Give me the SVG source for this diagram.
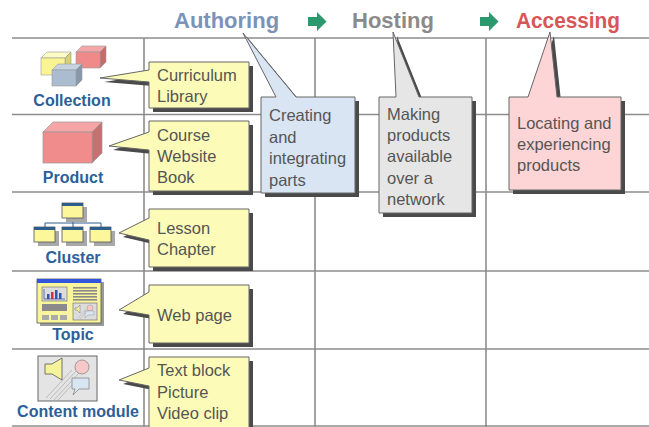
<svg xmlns="http://www.w3.org/2000/svg" width="649" height="427" viewBox="0 0 649 427">
  <style>
    .grid { stroke: #8c8c8c; stroke-width: 1.6; fill: none; }
    .head { font-family: "Liberation Sans", Arial, sans-serif; font-weight: bold; font-size: 22px; }
    .lbl { font-family: "Liberation Sans", Arial, sans-serif; font-weight: bold; font-size: 16px; fill: #2d5f9a; text-anchor: middle; }
    .txt { font-family: "Liberation Sans", Arial, sans-serif; font-size: 16.5px; fill: #555555; }
    .shadow { fill: #4a4a4a; }
    .callout { stroke: #666666; stroke-width: 1; }
    .yel { fill: #fdfbb8; }
    .win { fill: #fbf79a; stroke: #555555; stroke-width: 0.8; }
    .winbar { fill: #2e5d8c; }
    .winshadow { fill: #a8a8a8; }
    .flow { fill: #2a9a6e; }
  </style>
  <rect width="649" height="427" fill="#ffffff"/>

  <!-- table grid -->
  <g id="grid">
    <line class="grid" x1="12" y1="38" x2="649" y2="38"/>
    <line class="grid" x1="12" y1="114.5" x2="649" y2="114.5"/>
    <line class="grid" x1="12" y1="192" x2="649" y2="192"/>
    <line class="grid" x1="12" y1="271" x2="649" y2="271"/>
    <line class="grid" x1="12" y1="349" x2="649" y2="349"/>
    <line class="grid" x1="12" y1="426" x2="649" y2="426"/>
    <line class="grid" x1="144" y1="38" x2="144" y2="427"/>
    <line class="grid" x1="315" y1="38" x2="315" y2="427"/>
    <line class="grid" x1="486" y1="38" x2="486" y2="427"/>
  </g>

  <!-- column headings -->
  <g id="authoring"><text class="head" x="174" y="28" fill="#7a93b8">Authoring</text></g>
  <g id="hosting"><text class="head" x="352" y="28" fill="#8a8a8a">Hosting</text></g>
  <g id="accessing"><text class="head" x="516" y="28" fill="#d85656" textLength="104" lengthAdjust="spacingAndGlyphs">Accessing</text></g>

  <!-- flow arrows between phases -->
  <g id="connectors">
    <path class="flow" d="M308,17 H317 V12 L326.5,21.5 L317,31 V26 H308 Z"/>
    <path class="flow" d="M480,17 H489 V12 L498.5,21.5 L489,31 V26 H480 Z"/>
  </g>

  <!-- row: Collection -->
  <g id="collection">
    <!-- yellow cube -->
    <path d="M41,58 L47,52 L71,52 L65,58 Z" fill="#fdfcc4" stroke="#999" stroke-width="0.6"/>
    <path d="M65,58 L71,52 L71,69 L65,75 Z" fill="#d6d173" stroke="#999" stroke-width="0.6"/>
    <rect x="41" y="58" width="24" height="17" fill="#faf592" stroke="#999" stroke-width="0.6"/>
    <!-- red cube -->
    <path d="M76,52 L82,46 L106,46 L100,52 Z" fill="#f5a7a7" stroke="#999" stroke-width="0.6"/>
    <path d="M100,52 L106,46 L106,62 L100,68 Z" fill="#c86a6a" stroke="#999" stroke-width="0.6"/>
    <rect x="76" y="52" width="24" height="16" fill="#f08a8a" stroke="#999" stroke-width="0.6"/>
    <!-- blue cube -->
    <path d="M52,70 L58,64 L82,64 L76,70 Z" fill="#c6d2e0" stroke="#999" stroke-width="0.6"/>
    <path d="M76,70 L82,64 L82,80 L76,86 Z" fill="#8797ac" stroke="#999" stroke-width="0.6"/>
    <rect x="52" y="70" width="24" height="16" fill="#abbbd0" stroke="#999" stroke-width="0.6"/>
    <text class="lbl" x="72" y="106">Collection</text>
  </g>
  <g id="collection-note">
    <path class="shadow" transform="translate(4,4)" d="M149,62 H249 V108 H149 V82 L100,78 L149,70 Z"/>
    <path class="callout yel" d="M149,62 H249 V108 H149 V82 L100,78 L149,70 Z"/>
    <text class="txt" x="157" y="81">Curriculum</text>
    <text class="txt" x="157" y="102">Library</text>
  </g>

  <!-- row: Product -->
  <g id="product">
    <path d="M43,132 L53,122 L102,122 L92,132 Z" fill="#f5a5a5" stroke="#999" stroke-width="0.7"/>
    <path d="M92,132 L102,122 L102,153 L92,163 Z" fill="#c87070" stroke="#999" stroke-width="0.7"/>
    <rect x="43" y="132" width="49" height="31" fill="#f18c8c" stroke="#999" stroke-width="0.7"/>
    <text class="lbl" x="73" y="183">Product</text>
  </g>
  <g id="product-note">
    <path class="shadow" transform="translate(4,4)" d="M149,121 H249 V191 H149 V150 L109,146 L149,132 Z"/>
    <path class="callout yel" d="M149,121 H249 V191 H149 V150 L109,146 L149,132 Z"/>
    <text class="txt" x="157" y="141">Course</text>
    <text class="txt" x="157" y="162">Website</text>
    <text class="txt" x="157" y="183">Book</text>
  </g>

  <!-- row: Cluster -->
  <g id="cluster">
    <g stroke="#2e5d8c" stroke-width="1" fill="none">
      <path d="M73,218 V223 M45,223 H101 M45,223 V227 M73,223 V227 M101,223 V227"/>
    </g>
    <rect class="winshadow" x="66" y="207" width="21" height="15"/>
    <rect class="win" x="62" y="203" width="21" height="15"/>
    <rect class="winbar" x="62" y="203" width="21" height="3"/>
    <rect class="winshadow" x="38" y="231" width="21" height="15"/>
    <rect class="win" x="34" y="227" width="21" height="15"/>
    <rect class="winbar" x="34" y="227" width="21" height="3"/>
    <rect class="winshadow" x="66" y="231" width="21" height="15"/>
    <rect class="win" x="62" y="227" width="21" height="15"/>
    <rect class="winbar" x="62" y="227" width="21" height="3"/>
    <rect class="winshadow" x="94" y="231" width="21" height="15"/>
    <rect class="win" x="90" y="227" width="21" height="15"/>
    <rect class="winbar" x="90" y="227" width="21" height="3"/>
    <text class="lbl" x="73" y="263">Cluster</text>
  </g>
  <g id="cluster-note">
    <path class="shadow" transform="translate(4,4)" d="M149,209 H249 V267 H149 V240 L119,233 L149,218 Z"/>
    <path class="callout yel" d="M149,209 H249 V267 H149 V240 L119,233 L149,218 Z"/>
    <text class="txt" x="157" y="234">Lesson</text>
    <text class="txt" x="157" y="255">Chapter</text>
  </g>

  <!-- row: Topic -->
  <g id="topic">
    <rect x="40" y="282" width="64" height="44" fill="#9a9a9a"/>
    <rect x="37" y="279" width="64" height="44" fill="#f9f59a" stroke="#555" stroke-width="0.8"/>
    <rect x="37" y="279" width="64" height="4" fill="#3355dd"/>
    <!-- chart -->
    <rect x="42" y="287" width="25" height="14" fill="#dcdcdc" stroke="#666" stroke-width="0.6"/>
    <path d="M44,289 V299 H65" stroke="#3355aa" stroke-width="0.8" fill="none"/>
    <rect x="47" y="294" width="2.5" height="5" fill="#3355aa"/>
    <rect x="51" y="292" width="2.5" height="7" fill="#cc3344"/>
    <rect x="55" y="290" width="2.5" height="9" fill="#3355aa"/>
    <rect x="59" y="293" width="2.5" height="6" fill="#3355aa"/>
    <!-- text lines -->
    <g fill="#8a8a8a">
      <rect x="73" y="287" width="24" height="1.6"/>
      <rect x="73" y="290" width="24" height="1.6"/>
      <rect x="73" y="293" width="24" height="1.6"/>
      <rect x="73" y="296" width="24" height="1.6"/>
      <rect x="73" y="299" width="24" height="1.6"/>
      <rect x="42" y="304" width="25" height="7"/>
    </g>
    <g fill="#aaaaaa">
      <rect x="42" y="315" width="7" height="5"/>
      <rect x="51" y="315" width="7" height="5"/>
      <rect x="60" y="315" width="7" height="5"/>
    </g>
    <!-- media thumbnail -->
    <rect x="73" y="303" width="24" height="17" fill="#dcdcdc" stroke="#666" stroke-width="0.6"/>
    <path d="M75,308 H77 L80,305 V313 L77,310 H75 Z" fill="#f7f39a" stroke="#555" stroke-width="0.4"/>
    <circle cx="90" cy="308" r="3" fill="#f8c8c8" stroke="#888" stroke-width="0.4"/>
    <path d="M85,311 H94 V315 H88 L85,318 V315 Z" fill="#d8e6f4" stroke="#888" stroke-width="0.4"/>
    <path d="M78,318 L86,309 M80,319 L88,310" stroke="#aaa" stroke-width="0.5"/>
    <text class="lbl" x="73" y="340">Topic</text>
  </g>
  <g id="topic-note">
    <path class="shadow" transform="translate(4,4)" d="M149,285 H249 V343 H149 V315 L119,310 L149,292 Z"/>
    <path class="callout yel" d="M149,285 H249 V343 H149 V315 L119,310 L149,292 Z"/>
    <text class="txt" x="157" y="321">Web page</text>
  </g>

  <!-- row: Content module -->
  <g id="content-module">
    <rect x="38" y="356" width="59" height="45" fill="#e4e4e4" stroke="#666" stroke-width="1"/>
    <g stroke="#b0b0b0" stroke-width="0.8">
      <line x1="46" y1="398" x2="72" y2="370"/>
      <line x1="50" y1="399" x2="76" y2="371"/>
      <line x1="54" y1="400" x2="80" y2="372"/>
      <line x1="58" y1="400" x2="72" y2="385"/>
    </g>
    <path d="M45,364 H52 L62,358 V380 L52,374 H45 Z" fill="#f7f39a" stroke="#555" stroke-width="0.8"/>
    <circle cx="82" cy="367" r="7" fill="#f8c8c8" stroke="#888" stroke-width="0.8"/>
    <path d="M72,378 H89 V389 H79 L73,395 L75,389 H72 Z" fill="#d8e6f4" stroke="#888" stroke-width="0.8"/>
    <text class="lbl" x="78" y="417">Content module</text>
  </g>
  <g id="content-module-note">
    <path class="shadow" transform="translate(4,4)" d="M149,357 H249 V440 H149 V386 L119,380 L149,368 Z"/>
    <path class="callout yel" d="M149,357 H249 V440 H149 V386 L119,380 L149,368 Z"/>
    <text class="txt" x="157" y="376">Text block</text>
    <text class="txt" x="157" y="398">Picture</text>
    <text class="txt" x="157" y="419">Video clip</text>
  </g>

  <!-- phase notes -->
  <g id="authoring-note">
    <path class="shadow" transform="translate(4,4)" d="M261,97 H276 L243,33 L296,97 H355 V193 H261 Z"/>
    <path class="callout" fill="#d9e5f3" d="M261,97 H276 L243,33 L296,97 H355 V193 H261 Z"/>
    <text class="txt" x="269" y="121">Creating</text>
    <text class="txt" x="269" y="143">and</text>
    <text class="txt" x="269" y="164">integrating</text>
    <text class="txt" x="269" y="186">parts</text>
  </g>
  <g id="hosting-note">
    <path class="shadow" transform="translate(4,4)" d="M379,97 H396 L393,32 L419,97 H472 V213 H379 Z"/>
    <path class="callout" fill="#e6e6e6" d="M379,97 H396 L393,32 L419,97 H472 V213 H379 Z"/>
    <text class="txt" x="387" y="120">Making</text>
    <text class="txt" x="387" y="141">products</text>
    <text class="txt" x="387" y="162">available</text>
    <text class="txt" x="387" y="184">over a</text>
    <text class="txt" x="387" y="205">network</text>
  </g>
  <g id="accessing-note">
    <path class="shadow" transform="translate(4,4)" d="M509,97 H528 L550,32 L557,97 H621 V190 H509 Z"/>
    <path class="callout" fill="#fdd5d6" d="M509,97 H528 L550,32 L557,97 H621 V190 H509 Z"/>
    <text class="txt" x="517" y="129">Locating and</text>
    <text class="txt" x="517" y="150">experiencing</text>
    <text class="txt" x="517" y="171">products</text>
  </g>
</svg>
